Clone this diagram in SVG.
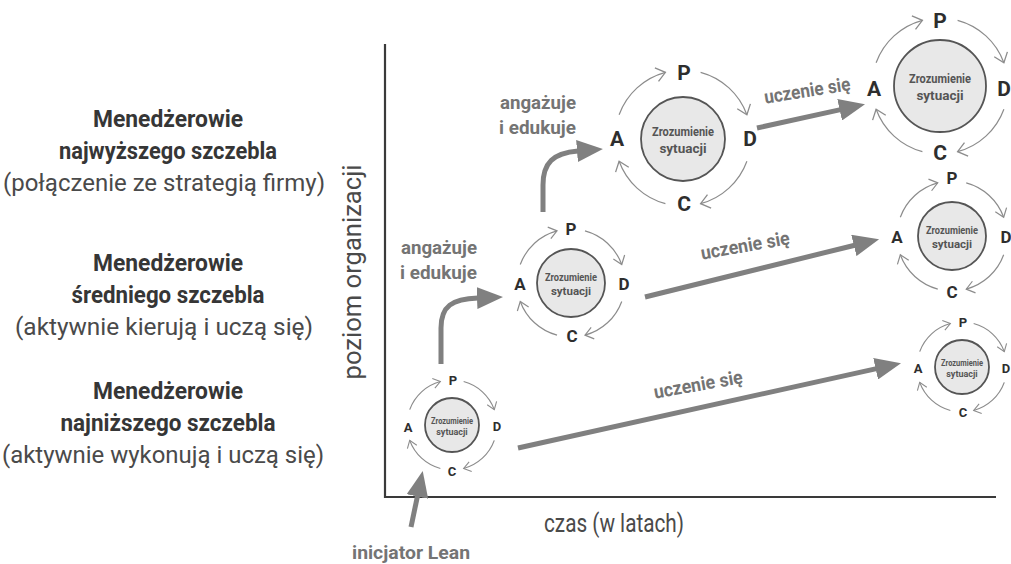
<svg xmlns="http://www.w3.org/2000/svg" width="1011" height="564" viewBox="0 0 1011 564">
<style>
.lb{font-family:Roboto,"Liberation Sans",sans-serif;font-weight:700;fill:#363636;text-anchor:middle}
.lr{font-family:Roboto,"Liberation Sans",sans-serif;font-weight:400;fill:#4a4a4a;text-anchor:middle}
.ax{stroke:#3a3a3a;stroke-width:2.2;fill:none}
.big{stroke:#808080;stroke-width:5;fill:none;stroke-linecap:butt}
.gl{font-family:Roboto,"Liberation Sans",sans-serif;font-weight:700;fill:#747474}
.arc{fill:none;stroke:#8c8c8c;stroke-width:1.2}
.core{fill:#e8e8e8;stroke:#555;stroke-width:1.8}
.in{font-family:Roboto,"Liberation Sans",sans-serif;font-weight:700;fill:#555;text-anchor:middle}
.k{font-family:Roboto,"Liberation Sans",sans-serif;font-weight:700;fill:#2e2e2e;text-anchor:middle}
</style>
<defs>
<marker id="head" markerUnits="userSpaceOnUse" viewBox="0 0 26 22" refX="1" refY="11" markerWidth="26" markerHeight="22" orient="auto"><path d="M0,0 L26,11 L0,22 z" fill="#808080"/></marker>
<marker id="chevL" markerUnits="userSpaceOnUse" viewBox="-12 -9 14 18" refX="0" refY="0" markerWidth="14" markerHeight="18" orient="auto" overflow="visible"><path d="M-9,-7 L0,0 L-9,7" fill="none" stroke="#8c8c8c" stroke-width="1.3"/></marker>
<marker id="chevM" markerUnits="userSpaceOnUse" viewBox="-12 -9 14 18" refX="0" refY="0" markerWidth="14" markerHeight="18" orient="auto" overflow="visible"><path d="M-8,-6 L0,0 L-8,6" fill="none" stroke="#8c8c8c" stroke-width="1.2"/></marker>
<marker id="chevS" markerUnits="userSpaceOnUse" viewBox="-12 -9 14 18" refX="0" refY="0" markerWidth="14" markerHeight="18" orient="auto" overflow="visible"><path d="M-7,-5 L0,0 L-7,5" fill="none" stroke="#8c8c8c" stroke-width="1.1"/></marker>
</defs>
<rect width="1011" height="564" fill="#fff"/>

<g id="left-labels">
<text class="lb" x="168" y="127" font-size="23" textLength="150" lengthAdjust="spacingAndGlyphs">Menedżerowie</text>
<text class="lb" x="168" y="159" font-size="23" textLength="218" lengthAdjust="spacingAndGlyphs">najwyższego szczebla</text>
<text class="lr" x="164" y="191" font-size="23" textLength="322" lengthAdjust="spacingAndGlyphs">(połączenie ze strategią firmy)</text>
<text class="lb" x="168" y="271" font-size="23" textLength="150" lengthAdjust="spacingAndGlyphs">Menedżerowie</text>
<text class="lb" x="168" y="303" font-size="23" textLength="193" lengthAdjust="spacingAndGlyphs">średniego szczebla</text>
<text class="lr" x="164" y="335" font-size="23" textLength="298" lengthAdjust="spacingAndGlyphs">(aktywnie kierują i uczą się)</text>
<text class="lb" x="168" y="399" font-size="23" textLength="150" lengthAdjust="spacingAndGlyphs">Menedżerowie</text>
<text class="lb" x="168" y="431" font-size="23" textLength="215" lengthAdjust="spacingAndGlyphs">najniższego szczebla</text>
<text class="lr" x="163" y="463" font-size="23" textLength="322" lengthAdjust="spacingAndGlyphs">(aktywnie wykonują i uczą się)</text>
</g>

<g id="axes">
<path class="ax" d="M385,44 V497 H996"/>
<text class="lr" x="0" y="0" font-size="25" transform="translate(361,272) rotate(-90)" textLength="215" lengthAdjust="spacingAndGlyphs" fill="#444">poziom organizacji</text>
<text class="lr" x="614" y="532" font-size="25" textLength="140" lengthAdjust="spacingAndGlyphs" fill="#444">czas (w latach)</text>
</g>

<g id="connectors">
<path class="big" d="M411,527 L417.6,495.5" marker-end="url(#head)"/>
<path class="big" d="M441,364 L441,328 C441,306 452,299 478,298" marker-end="url(#head)"/>
<path class="big" d="M543,212 L543,185 C543,163 553,153 578,151" marker-end="url(#head)"/>
<path class="big" d="M518,448 L876.6,368.6" marker-end="url(#head)"/>
<path class="big" d="M645,297 L854.8,245.2" marker-end="url(#head)"/>
<path class="big" d="M757,128 L840.6,109.6" marker-end="url(#head)"/>
</g>

<g id="connector-labels">
<text class="gl" x="401" y="254" font-size="19" textLength="76" lengthAdjust="spacingAndGlyphs">angażuje</text>
<text class="gl" x="400" y="279" font-size="19" textLength="77" lengthAdjust="spacingAndGlyphs">i edukuje</text>
<text class="gl" x="500" y="109" font-size="19" textLength="76" lengthAdjust="spacingAndGlyphs">angażuje</text>
<text class="gl" x="499" y="134" font-size="19" textLength="77" lengthAdjust="spacingAndGlyphs">i edukuje</text>
<text class="gl" x="698" y="391" font-size="19" text-anchor="middle" textLength="90" lengthAdjust="spacingAndGlyphs" transform="rotate(-10 698 384)">uczenie się</text>
<text class="gl" x="745" y="252" font-size="19" text-anchor="middle" textLength="90" lengthAdjust="spacingAndGlyphs" transform="rotate(-10 745 245)">uczenie się</text>
<text class="gl" x="807" y="97" font-size="19" text-anchor="middle" textLength="87" lengthAdjust="spacingAndGlyphs" transform="rotate(-9 807 90)">uczenie się</text>
<text class="gl" x="411" y="559" font-size="19" text-anchor="middle" textLength="118" lengthAdjust="spacingAndGlyphs" fill="#555">inicjator Lean</text>
</g>

<g id="cycle-bottom-left">
<path class="arc" marker-end="url(#chevS)" d="M409.71,409.61 A45,45 0 0 1 440.35,381.53"/>
<path class="arc" marker-end="url(#chevS)" d="M463.65,381.53 A45,45 0 0 1 494.29,409.61"/>
<path class="arc" marker-end="url(#chevS)" d="M494.29,440.39 A45,45 0 0 1 463.65,468.47"/>
<path class="arc" marker-end="url(#chevS)" d="M440.35,468.47 A45,45 0 0 1 409.71,440.39"/>
<circle class="core" cx="452" cy="425" r="27"/>
<text class="in" x="452" y="424" font-size="9" textLength="42" lengthAdjust="spacingAndGlyphs">Zrozumienie</text>
<text class="in" x="452" y="435" font-size="9">sytuacji</text>
<text class="k" x="453" y="385" font-size="13">P</text>
<text class="k" x="497" y="431" font-size="13">D</text>
<text class="k" x="452" y="476" font-size="13">C</text>
<text class="k" x="408" y="432" font-size="13">A</text>
</g>

<g id="cycle-middle">
<path class="arc" marker-end="url(#chevM)" d="M520.26,264.53 A54,54 0 0 1 557.02,230.84"/>
<path class="arc" marker-end="url(#chevM)" d="M584.98,230.84 A54,54 0 0 1 621.74,264.53"/>
<path class="arc" marker-end="url(#chevM)" d="M621.74,301.47 A54,54 0 0 1 584.98,335.16"/>
<path class="arc" marker-end="url(#chevM)" d="M557.02,335.16 A54,54 0 0 1 520.26,301.47"/>
<circle class="core" cx="571" cy="283" r="34"/>
<text class="in" x="571" y="281" font-size="11.5" textLength="52" lengthAdjust="spacingAndGlyphs">Zrozumienie</text>
<text class="in" x="571" y="295" font-size="11.5">sytuacji</text>
<text class="k" x="571" y="235" font-size="17">P</text>
<text class="k" x="624" y="290" font-size="17">D</text>
<text class="k" x="572" y="342" font-size="17">C</text>
<text class="k" x="520" y="290" font-size="17">A</text>
</g>

<g id="cycle-top">
<path class="arc" marker-end="url(#chevL)" d="M619.10,114.74 A68,68 0 0 1 665.40,72.32"/>
<path class="arc" marker-end="url(#chevL)" d="M700.60,72.32 A68,68 0 0 1 746.90,114.74"/>
<path class="arc" marker-end="url(#chevL)" d="M746.90,161.26 A68,68 0 0 1 700.60,203.68"/>
<path class="arc" marker-end="url(#chevL)" d="M665.40,203.68 A68,68 0 0 1 619.10,161.26"/>
<circle class="core" cx="683" cy="139" r="42"/>
<text class="in" x="683" y="136" font-size="13.5" textLength="62" lengthAdjust="spacingAndGlyphs">Zrozumienie</text>
<text class="in" x="683" y="153" font-size="13.5">sytuacji</text>
<text class="k" x="684" y="80" font-size="21">P</text>
<text class="k" x="750" y="146" font-size="21">D</text>
<text class="k" x="684" y="211" font-size="21">C</text>
<text class="k" x="617" y="146" font-size="21">A</text>
</g>

<g id="cycle-top-right">
<path class="arc" marker-end="url(#chevL)" d="M876.10,62.74 A68,68 0 0 1 922.40,20.32"/>
<path class="arc" marker-end="url(#chevL)" d="M957.60,20.32 A68,68 0 0 1 1003.90,62.74"/>
<path class="arc" marker-end="url(#chevL)" d="M1003.90,109.26 A68,68 0 0 1 957.60,151.68"/>
<path class="arc" marker-end="url(#chevL)" d="M922.40,151.68 A68,68 0 0 1 876.10,109.26"/>
<circle class="core" cx="940" cy="86" r="46"/>
<text class="in" x="940" y="83" font-size="13.5" textLength="62" lengthAdjust="spacingAndGlyphs">Zrozumienie</text>
<text class="in" x="940" y="100" font-size="13.5">sytuacji</text>
<text class="k" x="940" y="28" font-size="21">P</text>
<text class="k" x="1004" y="96" font-size="21">D</text>
<text class="k" x="940" y="160" font-size="21">C</text>
<text class="k" x="874" y="96" font-size="21">A</text>
</g>

<g id="cycle-middle-right">
<path class="arc" marker-end="url(#chevM)" d="M900.32,217.19 A55,55 0 0 1 937.77,182.88"/>
<path class="arc" marker-end="url(#chevM)" d="M966.23,182.88 A55,55 0 0 1 1003.68,217.19"/>
<path class="arc" marker-end="url(#chevM)" d="M1003.68,254.81 A55,55 0 0 1 966.23,289.12"/>
<path class="arc" marker-end="url(#chevM)" d="M937.77,289.12 A55,55 0 0 1 900.32,254.81"/>
<circle class="core" cx="952" cy="236" r="34"/>
<text class="in" x="952" y="234" font-size="11.5" textLength="52" lengthAdjust="spacingAndGlyphs">Zrozumienie</text>
<text class="in" x="952" y="248" font-size="11.5">sytuacji</text>
<text class="k" x="952" y="184" font-size="17">P</text>
<text class="k" x="1006" y="243" font-size="17">D</text>
<text class="k" x="952" y="298" font-size="17">C</text>
<text class="k" x="897" y="243" font-size="17">A</text>
</g>

<g id="cycle-bottom-right">
<path class="arc" marker-end="url(#chevS)" d="M919.71,351.61 A45,45 0 0 1 950.35,323.53"/>
<path class="arc" marker-end="url(#chevS)" d="M973.65,323.53 A45,45 0 0 1 1004.29,351.61"/>
<path class="arc" marker-end="url(#chevS)" d="M1004.29,382.39 A45,45 0 0 1 973.65,410.47"/>
<path class="arc" marker-end="url(#chevS)" d="M950.35,410.47 A45,45 0 0 1 919.71,382.39"/>
<circle class="core" cx="962" cy="367" r="27"/>
<text class="in" x="962" y="366" font-size="9" textLength="42" lengthAdjust="spacingAndGlyphs">Zrozumienie</text>
<text class="in" x="962" y="377" font-size="9">sytuacji</text>
<text class="k" x="963" y="327" font-size="13">P</text>
<text class="k" x="1006" y="373" font-size="13">D</text>
<text class="k" x="963" y="417" font-size="13">C</text>
<text class="k" x="918" y="373" font-size="13">A</text>
</g>
</svg>
